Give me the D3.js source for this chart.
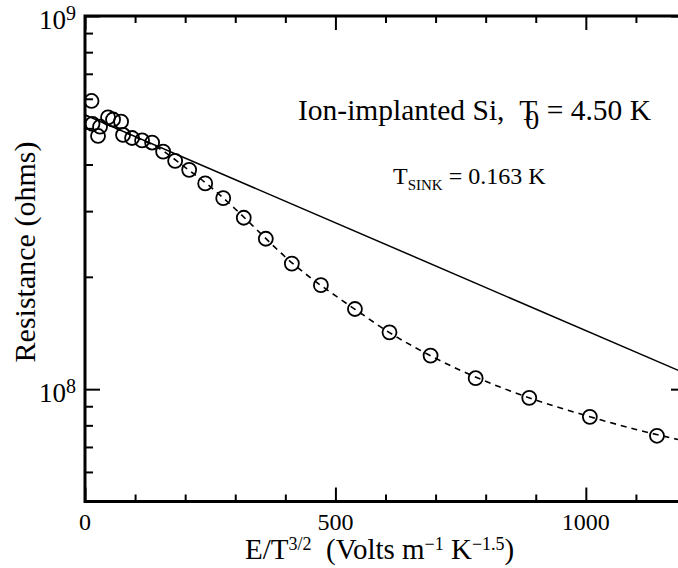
<!DOCTYPE html>
<html>
<head>
<meta charset="utf-8">
<script src="https://cdn.jsdelivr.net/npm/d3@7"></script>
<style>
  body { margin: 0; background: #fff; }
  svg text { font-family: "Liberation Serif", "Times New Roman", Times, serif; fill: #000; }
</style>
</head>
<body>
<script>
const width = 678;
const height = 568;

// Measured points: E/T^1.5 vs resistance
const fieldX = [13, 15, 26, 30, 46, 56, 72, 76, 94, 114, 134, 156, 180, 208, 240, 276,
  317, 361, 413, 471, 539, 608, 690, 780, 887, 1008, 1142];
const resistance = [5.92e8, 5.14e8, 4.77e8, 5.05e8, 5.35e8, 5.28e8, 5.21e8, 4.80e8, 4.71e8,
  4.64e8, 4.58e8, 4.33e8, 4.09e8, 3.87e8, 3.56e8, 3.25e8, 2.88e8, 2.53e8, 2.17e8, 1.90e8,
  1.64e8, 1.42e8, 1.23e8, 1.07e8, 9.48e7, 8.43e7, 7.50e7];

// Straight (solid) fit line
const fitX = [0, 1200];
const fitR = [5.43e8, 1.10e8];

// Dashed model curve
const modelX = [0, 100, 150, 200, 250, 300, 350, 400, 450, 500, 550, 600, 700, 800, 900, 1000, 1100, 1200];
const modelR = [5.43e8, 4.74e8, 4.40e8, 3.93e8, 3.49e8, 3.04e8, 2.62e8, 2.26e8, 1.99e8, 1.78e8,
  1.60e8, 1.44e8, 1.21e8, 1.05e8, 9.35e7, 8.5e7, 7.8e7, 7.25e7];

// Ticks
const xMajor = [0, 500, 1000];
const xMinor = [100, 200, 300, 400, 600, 700, 800, 900, 1100];
const yMajor = [1e8, 1e9];
const yMinor = [6e7, 7e7, 8e7, 9e7, 2e8, 3e8, 4e8, 5e8, 6e8, 7e8, 8e8, 9e8];
const yExponents = ["8", "9"];

const plotLeft = 85, plotRight = 686, plotTop = 16, plotBottom = 501.5;

const svg = d3.select("body")
  .append("svg")
  .attr("width", width)
  .attr("height", height);

const x = d3.scaleLinear().domain([0, 1200]).range([plotLeft, plotRight]);
const y = d3.scaleLog().domain([5e7, 1e9]).range([plotBottom, plotTop]);

svg.append("defs").append("clipPath").attr("id", "plot-clip")
  .append("rect")
  .attr("x", plotLeft).attr("y", plotTop)
  .attr("width", plotRight - plotLeft).attr("height", plotBottom - plotTop);

// --- axes (ticks point inward) ---
function tickAxis(axis, pos, ticks, size) {
  const g = svg.append("g")
    .attr("transform", pos)
    .call(axis.tickValues(ticks).tickSize(size).tickFormat(""));
  g.select(".domain").remove();
  g.selectAll(".tick line").attr("stroke", "#000").attr("stroke-width", 2);
  return g;
}

tickAxis(d3.axisBottom(x), `translate(0,${plotBottom})`, xMajor, -14);
tickAxis(d3.axisBottom(x), `translate(0,${plotBottom})`, xMinor, -7);
tickAxis(d3.axisTop(x), `translate(0,${plotTop})`, xMajor, -14);
tickAxis(d3.axisTop(x), `translate(0,${plotTop})`, xMinor, -7);
tickAxis(d3.axisLeft(y), `translate(${plotLeft},0)`, yMajor, -15);
tickAxis(d3.axisLeft(y), `translate(${plotLeft},0)`, yMinor, -8);
tickAxis(d3.axisRight(y), `translate(${plotRight},0)`, yMajor, -15);
tickAxis(d3.axisRight(y), `translate(${plotRight},0)`, yMinor, -8);

// frame
svg.append("rect")
  .attr("x", plotLeft).attr("y", plotTop)
  .attr("width", plotRight - plotLeft).attr("height", plotBottom - plotTop)
  .attr("fill", "none")
  .attr("stroke", "#000")
  .attr("stroke-width", 3);

// x tick labels
svg.append("g").selectAll("text")
  .data(xMajor)
  .join("text")
  .attr("x", d => x(d))
  .attr("y", 530)
  .attr("text-anchor", "middle")
  .attr("font-size", 24)
  .text(d => d);

// y tick labels 10^n
const yLab = svg.append("g").selectAll("text")
  .data(yMajor)
  .join("text")
  .attr("x", 76)
  .attr("y", d => y(d) + 13)
  .attr("text-anchor", "end")
  .attr("font-size", 27);
yLab.append("tspan").text("10");
yLab.append("tspan")
  .attr("font-size", 20)
  .attr("dy", -9)
  .text((d, i) => yExponents[i]);

// axis titles
const xTitle = svg.append("text")
  .attr("x", 245)
  .attr("y", 559)
  .attr("font-size", 29);
xTitle.append("tspan").text("E/T");
xTitle.append("tspan").attr("font-size", 18).attr("dy", -9).text("3/2");
xTitle.append("tspan").attr("dy", 9).text("\u00a0\u00a0(Volts m");
xTitle.append("tspan").attr("font-size", 18).attr("dy", -9).text("\u22121");
xTitle.append("tspan").attr("dy", 9).text(" K");
xTitle.append("tspan").attr("font-size", 18).attr("dy", -9).text("\u22121.5");
xTitle.append("tspan").attr("dy", 9).text(")");

svg.append("text")
  .attr("transform", "translate(35,252) rotate(-90)")
  .attr("text-anchor", "middle")
  .attr("font-size", 30)
  .text("Resistance (ohms)");

// annotations
const title = svg.append("text")
  .attr("x", 298)
  .attr("y", 120)
  .attr("font-size", 29.5);
title.append("tspan").text("Ion-implanted Si,\u00a0\u00a0T");
title.append("tspan").attr("font-size", 28).attr("dx", -12).attr("dy", 9).text("0");
title.append("tspan").attr("dy", -9).text(" = 4.50 K");

const sink = svg.append("text")
  .attr("x", 393)
  .attr("y", 184)
  .attr("font-size", 24);
sink.append("tspan").text("T");
sink.append("tspan").attr("font-size", 15).attr("dy", 6).text("SINK");
sink.append("tspan").attr("dy", -6).text(" = 0.163 K");

// --- curves ---
const plot = svg.append("g").attr("clip-path", "url(#plot-clip)");

const line = d3.line()
  .x(d => x(d[0]))
  .y(d => y(d[1]));

plot.append("path")
  .datum(d3.zip(fitX, fitR))
  .attr("d", line)
  .attr("fill", "none")
  .attr("stroke", "#000")
  .attr("stroke-width", 1.5);

plot.append("path")
  .datum(d3.zip(modelX, modelR))
  .attr("d", line.curve(d3.curveMonotoneX))
  .attr("fill", "none")
  .attr("stroke", "#000")
  .attr("stroke-width", 1.6)
  .attr("stroke-dasharray", "6,5");

plot.selectAll(".pt")
  .data(d3.zip(fieldX, resistance))
  .join("circle")
  .attr("class", "pt")
  .attr("cx", d => x(d[0]))
  .attr("cy", d => y(d[1]))
  .attr("r", 7)
  .attr("fill", "none")
  .attr("stroke", "#000")
  .attr("stroke-width", 1.8);
</script>
</body>
</html>
